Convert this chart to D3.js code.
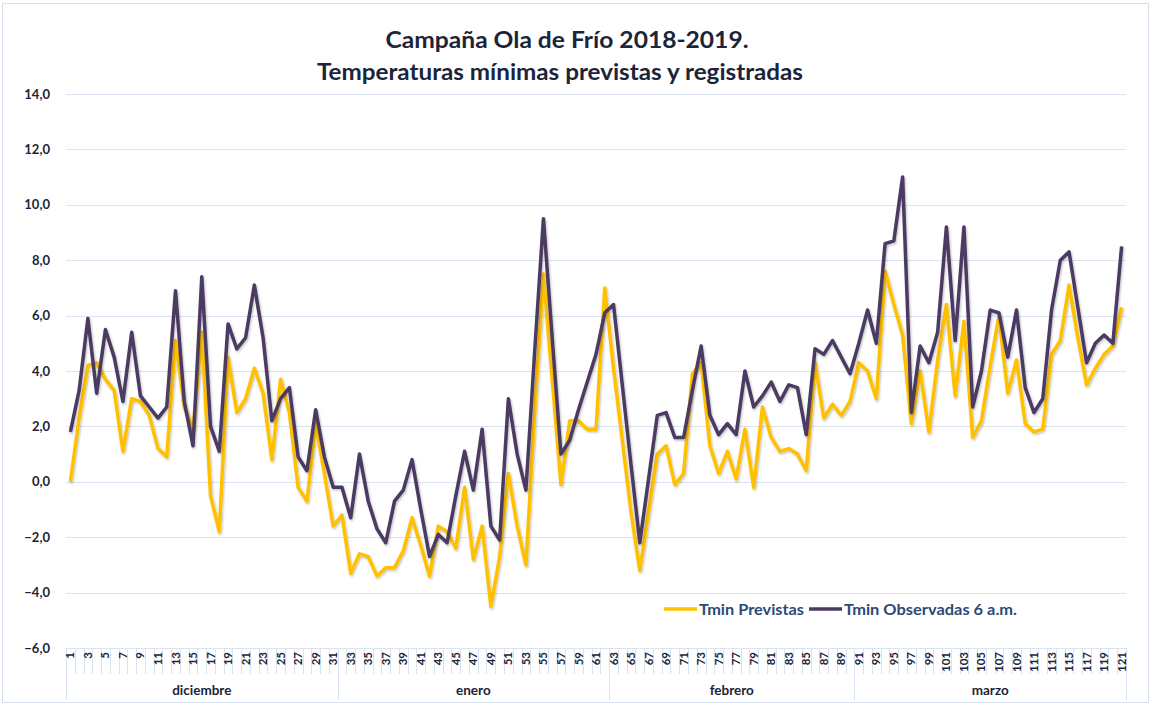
<!DOCTYPE html>
<html>
<head>
<meta charset="utf-8">
<script src="https://cdn.jsdelivr.net/npm/d3@7"></script>
<style>
  body { margin: 0; background: #fff; }
  text { font-family: Lato, "Open Sans", sans-serif; }
</style>
</head>
<body>
<svg id="chart" width="1151" height="705"></svg>
<script>
// daily minimum temperatures, day 1 = 1 Dec 2018
const tminPrevistas = [
  0.0, 2.3, 4.2, 4.3, 3.7, 3.3, 1.1, 3.0, 2.9, 2.4,
  1.2, 0.9, 5.1, 2.7, 1.9, 5.4, -0.5, -1.8, 4.5, 2.5,
  3.0, 4.1, 3.2, 0.8, 3.7, 2.5, -0.2, -0.7, 2.1, 0.3,
  -1.6, -1.2, -3.3, -2.6, -2.7, -3.4, -3.1, -3.1, -2.5, -1.3,
  -2.3, -3.4, -1.6, -1.8, -2.4, -0.2, -2.8, -1.6, -4.5, -2.7,
  0.3, -1.6, -3.0, 2.5, 7.5, 3.7, -0.1, 2.2, 2.2, 1.9,
  1.9, 7.0, 4.1, 1.5, -1.1, -3.2, -1.1, 1.0, 1.3, -0.1,
  0.3, 3.9, 4.3, 1.3, 0.3, 1.1, 0.1, 1.9, -0.2, 2.7,
  1.6, 1.1, 1.2, 1.0, 0.4, 4.3, 2.3, 2.8, 2.4, 2.9,
  4.3, 4.0, 3.0, 7.6, 6.4, 5.3, 2.1, 4.0, 1.8, 4.4,
  6.4, 3.1, 5.8, 1.6, 2.2, 4.2, 6.0, 3.2, 4.4, 2.1,
  1.8, 1.9, 4.6, 5.1, 7.1, 5.2, 3.5, 4.1, 4.6, 4.9,
  6.3
];
const tminObservadas = [
  1.8, 3.3, 5.9, 3.2, 5.5, 4.5, 2.9, 5.4, 3.1, 2.7,
  2.3, 2.7, 6.9, 2.9, 1.3, 7.4, 2.0, 1.1, 5.7, 4.8,
  5.2, 7.1, 5.2, 2.2, 3.0, 3.4, 0.9, 0.4, 2.6, 0.9,
  -0.2, -0.2, -1.3, 1.0, -0.7, -1.7, -2.2, -0.7, -0.3, 0.8,
  -1.0, -2.7, -1.9, -2.2, -0.5, 1.1, -0.3, 1.9, -1.6, -2.1,
  3.0, 1.0, -0.3, 4.7, 9.5, 5.2, 1.0, 1.5, 2.6, 3.6,
  4.6, 6.1, 6.4, 3.5, 0.6, -2.2, 0.1, 2.4, 2.5, 1.6,
  1.6, 3.3, 4.9, 2.4, 1.7, 2.1, 1.7, 4.0, 2.7, 3.1,
  3.6, 2.9, 3.5, 3.4, 1.7, 4.8, 4.6, 5.1, 4.5, 3.9,
  5.0, 6.2, 5.0, 8.6, 8.7, 11.0, 2.5, 4.9, 4.3, 5.4,
  9.2, 5.1, 9.2, 2.7, 4.0, 6.2, 6.1, 4.5, 6.2, 3.4,
  2.5, 3.0, 6.2, 8.0, 8.3, 6.3, 4.3, 5.0, 5.3, 5.0,
  8.5
];
const days = d3.range(1, 122);
const months = ["diciembre", "enero", "febrero", "marzo"];
const monthStart = [1, 32, 63, 91];
const monthEnd = [31, 62, 90, 121];
const yTicks = d3.range(-6, 15, 2);
const seriesNames = ["Tmin Previstas", "Tmin Observadas 6 a.m."];
const seriesColors = ["#ffc000", "#4b3a62"];

{
    const es = d3.formatLocale({decimal: ",", thousands: ".", grouping: [3], currency: ["", " €"]});
    const fmt = es.format(".1f");

    const svg = d3.select("#chart");
    const plotLeft = 66, plotRight = 1126, plotTop = 94, plotBottom = 648;

    const x = d3.scaleBand().domain(days).range([plotLeft, plotRight]).padding(0);
    const y = d3.scaleLinear().domain([-6, 14]).range([plotBottom, plotTop]);
    const cx = d => x(d) + x.bandwidth() / 2;

    // outer frame
    svg.append("rect")
        .attr("x", 2.5).attr("y", 3.5)
        .attr("width", 1146).attr("height", 699)
        .attr("fill", "none").attr("stroke", "#d5e0ee");

    // title
    const title = svg.append("g").attr("fill", "#1b2438").attr("font-weight", 700).attr("text-anchor", "middle");
    title.append("text").attr("x", 567).attr("y", 48).attr("font-size", 22)
        .attr("textLength", 363).attr("lengthAdjust", "spacingAndGlyphs")
        .text("Campaña Ola de Frío 2018-2019.");
    title.append("text").attr("x", 560).attr("y", 80).attr("font-size", 22)
        .attr("textLength", 486).attr("lengthAdjust", "spacingAndGlyphs")
        .text("Temperaturas mínimas previstas y registradas");

    // gridlines
    svg.append("g").selectAll("line")
        .data(yTicks)
        .join("line")
        .attr("x1", plotLeft).attr("x2", plotRight)
        .attr("y1", d => Math.round(y(d)) + 0.5).attr("y2", d => Math.round(y(d)) + 0.5)
        .attr("stroke", "#d9e3f1").attr("stroke-width", 1);

    // y labels
    svg.append("g").selectAll("text")
        .data(yTicks)
        .join("text")
        .attr("x", 50).attr("y", d => y(d))
        .attr("dy", "0.35em")
        .attr("text-anchor", "end")
        .attr("font-size", 13).attr("font-weight", 700)
        .attr("fill", "#1b2438")
        .text(d => fmt(d));

    // category axis: small ticks between days
    const bounds = days.map(d => x(d)).concat([plotRight]);
    svg.append("g").selectAll("line")
        .data(bounds)
        .join("line")
        .attr("x1", d => Math.round(d) + 0.5).attr("x2", d => Math.round(d) + 0.5)
        .attr("y1", plotBottom).attr("y2", 674)
        .attr("stroke", "#d9e3f1");

    // month separators
    const sepX = monthStart.map(d => x(d)).concat([plotRight]);
    svg.append("g").selectAll("line")
        .data(sepX)
        .join("line")
        .attr("x1", d => Math.round(d) + 0.5).attr("x2", d => Math.round(d) + 0.5)
        .attr("y1", plotBottom).attr("y2", 700)
        .attr("stroke", "#d9e3f1");

    // day labels
    svg.append("g").selectAll("text")
        .data(days.filter(d => d % 2 === 1))
        .join("text")
        .attr("transform", d => `translate(${cx(d)},${plotBottom + 4}) rotate(-90)`)
        .attr("dy", "0.35em")
        .attr("text-anchor", "end")
        .attr("font-size", 11.5).attr("font-weight", 700)
        .attr("fill", "#1b2438")
        .text(d => d);

    // month labels
    svg.append("g").selectAll("text")
        .data(months)
        .join("text")
        .attr("x", (m, i) => (x(monthStart[i]) + x(monthEnd[i]) + x.bandwidth()) / 2)
        .attr("y", 695)
        .attr("text-anchor", "middle")
        .attr("font-size", 13.5).attr("font-weight", 700)
        .attr("fill", "#1b2438")
        .text(m => m);

    // lines
    const defs = svg.append("defs");
    defs.append("filter").attr("id", "sh")
        .attr("x", "-5%").attr("y", "-5%").attr("width", "110%").attr("height", "110%")
      .append("feDropShadow")
        .attr("dx", 1).attr("dy", 1.5).attr("stdDeviation", 1)
        .attr("flood-color", "#000").attr("flood-opacity", 0.25);

    const line = d3.line().x((v, i) => cx(days[i])).y(v => y(v));
    [tminPrevistas, tminObservadas].forEach((s, i) => {
        svg.append("path")
            .datum(s)
            .attr("d", line)
            .attr("fill", "none")
            .attr("stroke", seriesColors[i])
            .attr("stroke-width", 3.5)
            .attr("stroke-linejoin", "round")
            .attr("filter", "url(#sh)");
    });

    // legend
    const legX = [664, 809];
    const legW = [105, 173];
    const leg = svg.append("g");
    seriesNames.forEach((n, i) => {
        leg.append("line")
            .attr("x1", legX[i]).attr("x2", legX[i] + 33)
            .attr("y1", 609).attr("y2", 609)
            .attr("stroke", seriesColors[i]).attr("stroke-width", 3.5);
        leg.append("text")
            .attr("x", legX[i] + 35).attr("y", 609)
            .attr("dy", "0.35em")
            .attr("font-size", 16).attr("font-weight", 700)
            .attr("textLength", legW[i]).attr("lengthAdjust", "spacingAndGlyphs")
            .attr("fill", "#2b4a78")
            .text(n);
    });
}
</script>
</body>
</html>
